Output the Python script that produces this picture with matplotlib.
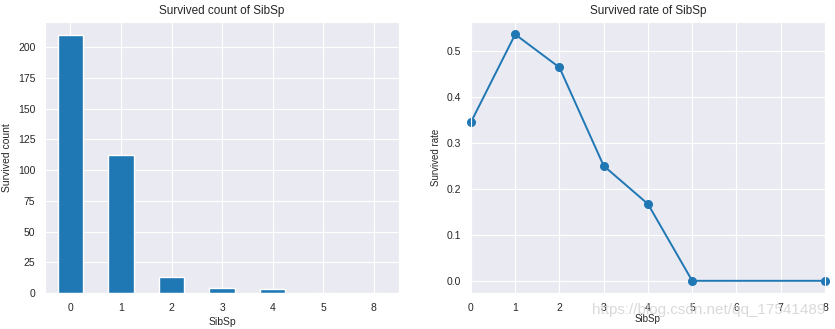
import matplotlib
matplotlib.use('Agg')
import matplotlib.pyplot as plt
import pandas as pd
import seaborn as sns

# Survivors per number of siblings/spouses aboard
sibsp = [0, 1, 2, 3, 4, 5, 8]
survived_count = [210, 112, 13, 4, 3, 0, 0]
survived_rate = [0.345, 0.536, 0.464, 0.25, 0.167, 0.0, 0.0]

sns.set_style('darkgrid')
plt.rcParams['font.family'] = ['Liberation Sans', 'DejaVu Sans']

fig = plt.figure(figsize=(8.35, 3.29), dpi=100)
ax1 = fig.add_axes([0.054, 0.109, 0.424, 0.824])
ax2 = fig.add_axes([0.564, 0.109, 0.424, 0.824])

# Left: bar chart of survivor counts
counts = pd.Series(survived_count, index=sibsp)
counts.plot(kind='bar', ax=ax1, color='#1f77b4', width=0.5, rot=0)
ax1.set_title('Survived count of SibSp', fontsize=8.5)
ax1.set_xlabel('SibSp', fontsize=7.5, labelpad=3)
ax1.set_ylabel('Survived count', fontsize=7.5)
ax1.tick_params(labelsize=7.5)

# Right: survival rate line
ax2.plot(sibsp, survived_rate, marker='o', color='#1f77b4', markersize=5.5, linewidth=1.4, clip_on=False)
ax2.set_xlim(0, 8)
ax2.set_title('Survived rate of SibSp', fontsize=8.5)
ax2.set_xlabel('SibSp', fontsize=7, labelpad=1)
ax2.set_ylabel('Survived rate', fontsize=7)
ax2.tick_params(labelsize=7.5)

fig.text(0.988, 0.035, 'https://blog.csdn.net/qq_17541489', ha='right', va='bottom',
         fontsize=11, color='#d0d0d0', alpha=0.8)

fig.savefig('out.png', dpi=100)
